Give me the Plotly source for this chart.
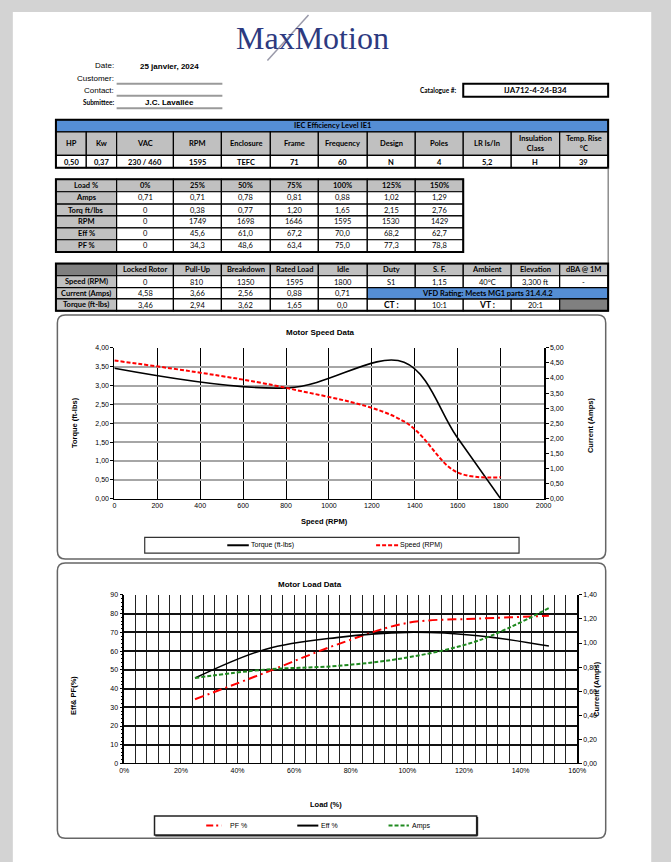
import plotly.graph_objects as go

W, H = 671, 862

# ---------------- data ----------------
date_text = "25 janvier, 2024"
submittee = "J.C. Lavallée"
catalogue = "IJA712-4-24-B34"

iec_title = "IEC Efficiency Level IE1"
spec_headers = ["HP", "Kw", "VAC", "RPM", "Enclosure", "Frame", "Frequency", "Design",
                "Poles", "LR Is/In", "Insulation<br>Class", "Temp. Rise<br>°C"]
spec_values = ["0,50", "0,37", "230 / 460", "1595", "TEFC", "71", "60", "N", "4", "5,2", "H", "39"]

load_pct = [0, 25, 50, 75, 100, 125, 150]
amps = [0.71, 0.71, 0.78, 0.81, 0.88, 1.02, 1.29]
torq = [0, 0.38, 0.77, 1.20, 1.65, 2.15, 2.76]
rpm = [0, 1749, 1698, 1646, 1595, 1530, 1429]
eff = [0, 45.6, 61.0, 67.2, 70.0, 68.2, 62.7]
pf = [0, 34.3, 48.6, 63.4, 75.0, 77.3, 78.8]

perf_headers = ["Locked Rotor", "Pull-Up", "Breakdown", "Rated Load", "Idle"]
perf_speed = [0, 810, 1350, 1595, 1800]
perf_current = [4.58, 3.66, 2.56, 0.88, 0.71]
perf_torque = [3.46, 2.94, 3.62, 1.65, 0.0]
extra_headers = ["Duty", "S. F.", "Ambient", "Elevation", "dBA @ 1M"]
extra_values = ["S1", "1,15", "40°C", "3,300 ft", "-"]
vfd_text = "VFD Rating: Meets MG1 parts 31.4.4.2"
ct_vt = ["CT :", "10:1", "VT :", "20:1"]

# ---------------- helpers ----------------
def X(p):
    return p / W

def Y(p):
    return 1 - p / H

def fmt2(v):
    return f"{v:.2f}".replace(".", ",")

def fmt1(v):
    return f"{v:.1f}".replace(".", ",")

shapes = []
annots = []

TF = "Lato"
AF = "Liberation Sans"

def rect(x0, y0, x1, y1, fill=None, lc="black", lw=1, layer="above"):
    shapes.append(dict(type="rect", xref="paper", yref="paper", x0=X(x0), x1=X(x1),
                       y0=Y(y1), y1=Y(y0), fillcolor=fill if fill else "rgba(0,0,0,0)",
                       line=dict(color=lc, width=lw), layer=layer))

def hline(x0, x1, y, lc="black", lw=1):
    shapes.append(dict(type="line", xref="paper", yref="paper", x0=X(x0), x1=X(x1),
                       y0=Y(y), y1=Y(y), line=dict(color=lc, width=lw)))

def seg(x0, y0, x1, y1, lc="black", lw=1, dash="solid"):
    shapes.append(dict(type="line", xref="paper", yref="paper", x0=X(x0), x1=X(x1),
                       y0=Y(y0), y1=Y(y1), line=dict(color=lc, width=lw, dash=dash)))

def text(x, y, s, size=7.5, bold=False, color="black", family=TF, xanchor="center", angle=0):
    annots.append(dict(xref="paper", yref="paper", x=X(x), y=Y(y),
                       text=f"<b>{s}</b>" if bold else s, showarrow=False,
                       font=dict(size=size, color=color, family=family),
                       xanchor=xanchor, yanchor="middle", textangle=angle, borderpad=0))

def rounded(x0, y0, x1, y1, r=8, lc="#666666", lw=1.5):
    p = (f"M {X(x0+r)},{Y(y0)} L {X(x1-r)},{Y(y0)} Q {X(x1)},{Y(y0)} {X(x1)},{Y(y0+r)} "
         f"L {X(x1)},{Y(y1-r)} Q {X(x1)},{Y(y1)} {X(x1-r)},{Y(y1)} "
         f"L {X(x0+r)},{Y(y1)} Q {X(x0)},{Y(y1)} {X(x0)},{Y(y1-r)} "
         f"L {X(x0)},{Y(y0+r)} Q {X(x0)},{Y(y0)} {X(x0+r)},{Y(y0)} Z")
    shapes.append(dict(type="path", xref="paper", yref="paper", path=p,
                       line=dict(color=lc, width=lw), fillcolor="rgba(0,0,0,0)"))

GRAY = "#c0c0c0"
BLUE = "#558ed5"
DARK = "#808080"

# ---------------- page ----------------
rect(8, 8, 660, 870, fill="white", lc="white", lw=0, layer="below")

# logo
text(314, 34, "MaxMotion", size=32, color="#2d3a80", family="Liberation Serif")
seg(268, 57, 310, 11, lc="#9a9aaa", lw=1.5)

# header fields
text(112, 62, "Date:", size=8, family=AF, xanchor="right")
text(168, 63, date_text, size=8, bold=True, family=AF)
text(112, 75, "Customer:", size=8, family=AF, xanchor="right")
text(112, 87, "Contact:", size=8, family=AF, xanchor="right")
text(112, 99, "Submittee:", size=6.5, bold=True, family=TF, xanchor="right")
text(168, 99, submittee, size=8, bold=True, family=AF)
for yy in (80.5, 92.5, 105):
    hline(114, 222, yy, lc="#9a9a9a", lw=2)
text(463, 87, "Catalogue #:", size=6.5, bold=True, xanchor="right")
rect(468, 80.5, 616, 93.5, lc="black", lw=2)
text(542, 87, catalogue, size=8, bold=True)

# ---------------- table 1 ----------------
cols = [52, 83, 114, 172, 221, 271, 320, 370, 419, 468, 517, 566.5, 616]
r1 = [116.7, 129, 152.7, 165]
rect(cols[0], r1[0], cols[-1], r1[1], fill=BLUE, lw=1)
text((cols[0] + cols[-1]) / 2, (r1[0] + r1[1]) / 2, iec_title, size=7.5, bold=True)
for i, (hd, v) in enumerate(zip(spec_headers, spec_values)):
    rect(cols[i], r1[1], cols[i + 1], r1[2], fill=GRAY, lw=1.2)
    text((cols[i] + cols[i + 1]) / 2, (r1[1] + r1[2]) / 2, hd, size=7.5, bold=True)
    rect(cols[i], r1[2], cols[i + 1], r1[3], fill="white", lw=1.2)
    text((cols[i] + cols[i + 1]) / 2, (r1[2] + r1[3]) / 2 + 0.5, v, size=7.5, bold=True)
rect(cols[0], r1[0], cols[-1], r1[3], lw=2)

# right frame line
seg(616, 165, 616, 261.7, lc="#555555", lw=1)

# ---------------- table 2 ----------------
c2 = [52, 114, 172, 221, 271, 320, 370, 419, 468]
r2 = [176.7, 189.3, 201.7, 213.7, 225.7, 237.7, 250]
hdr2 = ["Load %"] + [f"{p}%" for p in load_pct]
rows2 = [
    ("Amps", [fmt2(v) for v in amps]),
    ("Torq ft/lbs", ["0" if v == 0 else fmt2(v) for v in torq]),
    ("RPM", [str(v) for v in rpm]),
    ("Eff %", ["0" if v == 0 else fmt1(v) for v in eff]),
    ("PF %", ["0" if v == 0 else fmt1(v) for v in pf]),
]
for i, hd in enumerate(hdr2):
    rect(c2[i], r2[0], c2[i + 1], r2[1], fill=GRAY, lw=1.2)
    text((c2[i] + c2[i + 1]) / 2, (r2[0] + r2[1]) / 2, hd, size=7.5, bold=True)
for j, (lab, vals) in enumerate(rows2):
    y0, y1 = r2[j + 1], r2[j + 2]
    rect(c2[0], y0, c2[1], y1, fill=GRAY, lw=1.2)
    text((c2[0] + c2[1]) / 2, (y0 + y1) / 2, lab, size=7.5, bold=True)
    for i, v in enumerate(vals):
        rect(c2[i + 1], y0, c2[i + 2], y1, fill="white", lw=1.2)
        text((c2[i + 1] + c2[i + 2]) / 2, (y0 + y1) / 2, v, size=7.5)
rect(c2[0], r2[0], c2[-1], r2[-1], lw=2)

# ---------------- table 3 ----------------
c3 = [52, 114, 172, 221, 271, 320, 370, 419, 468, 517, 566.5, 616]
r3 = [261.7, 274, 286, 297.3, 309.3]
rect(c3[0], r3[0], c3[1], r3[1], fill=DARK, lw=1.2)
for i, hd in enumerate(perf_headers + extra_headers):
    rect(c3[i + 1], r3[0], c3[i + 2], r3[1], fill=GRAY, lw=1.2)
    text((c3[i + 1] + c3[i + 2]) / 2, (r3[0] + r3[1]) / 2, hd, size=7.5, bold=True)
row_labels3 = ["Speed (RPM)", "Current (Amps)", "Torque (ft-lbs)"]
row_vals3 = [
    [str(v) for v in perf_speed] + extra_values,
    [fmt2(v) for v in perf_current],
    [fmt2(v) if v else "0,0" for v in perf_torque] + ct_vt,
]
for j, lab in enumerate(row_labels3):
    y0, y1 = r3[j + 1], r3[j + 2]
    rect(c3[0], y0, c3[1], y1, fill=GRAY, lw=1.2)
    text((c3[0] + c3[1]) / 2, (y0 + y1) / 2, lab, size=7.5, bold=True)
    for i, v in enumerate(row_vals3[j]):
        rect(c3[i + 1], y0, c3[i + 2], y1, fill="white", lw=1.2)
        big = v in ("CT :", "VT :")
        text((c3[i + 1] + c3[i + 2]) / 2, (y0 + y1) / 2 + 0.5, v, size=8.5 if big else 7.5, bold=big)
# merged VFD cell
rect(c3[6], r3[2], c3[-1], r3[3], fill=BLUE, lw=1.2)
text((c3[6] + c3[-1]) / 2, (r3[2] + r3[3]) / 2, vfd_text, size=7.5, bold=True)
rect(c3[-2], r3[3], c3[-1], r3[4], fill=DARK, lw=1.2)
rect(c3[0], r3[0], c3[-1], r3[-1], lw=2)

# ---------------- chart boxes ----------------
rounded(53.5, 313.5, 613.5, 559.5)
rounded(53.5, 563.5, 613.5, 841)

# chart 1 texts
text(322, 331, "Motor Speed Data", size=8, bold=True, family=AF)
text(326, 522, "Speed (RPM)", size=7.5, bold=True, family=AF)
text(71, 422, "Torque (ft-lbs)", size=7.5, bold=True, family=AF, angle=-90)
text(598, 425, "Current (Amps)", size=7.5, bold=True, family=AF, angle=-90)
# chart 1 legend
rect(142.7, 537.7, 525, 553.7, lc="#333333", lw=1.2)
seg(227, 545.7, 249, 545.7, lc="black", lw=2)
text(250.5, 545.7, "Torque (ft-lbs)", size=7, family=AF, xanchor="left")
seg(379, 545.7, 401.5, 545.7, lc="#ff0000", lw=2, dash="4px,2px")
text(402.5, 545.7, "Speed (RPM)", size=7, family=AF, xanchor="left")

# chart 2 texts
text(312, 585, "Motor Load Data", size=8, bold=True, family=AF)
text(328, 807.5, "Load (%)", size=7.5, bold=True, family=AF)
text(70, 697, "Eff& PF(%)", size=7.5, bold=True, family=AF, angle=-90)
text(604, 690, "Current (Amps)", size=7.5, bold=True, family=AF, angle=-90)
# chart 2 legend
rect(152.7, 818.7, 481.7, 837.7, lc="#222222", lw=1.5)
seg(153.5, 838.5, 482.5, 838.5, lc="#222222", lw=1.5)
seg(482.5, 819.5, 482.5, 838.5, lc="#222222", lw=1.5)
seg(205.5, 828.3, 221, 828.3, lc="#ff0000", lw=2, dash="7px,3px,2px,3px")
text(229, 828.3, "PF %", size=7, family=AF, xanchor="left")
seg(298.5, 828.3, 320, 828.3, lc="black", lw=2)
text(321.5, 828.3, "Eff %", size=7, family=AF, xanchor="left")
seg(391.7, 828.3, 412.5, 828.3, lc="#1f8a1f", lw=2, dash="4px,2px")
text(414.3, 828.3, "Amps", size=7, family=AF, xanchor="left")

# ---------------- traces ----------------
fig = go.Figure()
fig.add_trace(go.Scatter(x=perf_speed, y=perf_torque, mode="lines", name="Torque (ft-lbs)",
                         line=dict(color="black", width=1.6, shape="spline", smoothing=1),
                         xaxis="x", yaxis="y", showlegend=False, hoverinfo="skip"))
fig.add_trace(go.Scatter(x=perf_speed, y=perf_current, mode="lines", name="Speed (RPM)",
                         line=dict(color="#ff0000", width=2, dash="4px,2px", shape="spline", smoothing=1),
                         xaxis="x", yaxis="y2", showlegend=False, hoverinfo="skip"))

load_frac = [p / 100 for p in load_pct[1:]]
fig.add_trace(go.Scatter(x=load_frac, y=pf[1:], mode="lines", name="PF %",
                         line=dict(color="#ff0000", width=2, dash="9px,4px,2px,4px", shape="spline", smoothing=1),
                         xaxis="x2", yaxis="y3", showlegend=False, hoverinfo="skip"))
fig.add_trace(go.Scatter(x=load_frac, y=eff[1:], mode="lines", name="Eff %",
                         line=dict(color="black", width=1.6, shape="spline", smoothing=1),
                         xaxis="x2", yaxis="y3", showlegend=False, hoverinfo="skip"))
fig.add_trace(go.Scatter(x=load_frac, y=amps[1:], mode="lines", name="Amps",
                         line=dict(color="#1f8a1f", width=2, dash="4px,2px", shape="spline", smoothing=1),
                         xaxis="x2", yaxis="y4", showlegend=False, hoverinfo="skip"))

tickfont = dict(size=7, family=AF, color="black")

fig.update_layout(
    width=W, height=H,
    margin=dict(l=0, r=0, t=0, b=0),
    paper_bgcolor="#d3d3d3",
    plot_bgcolor="rgba(0,0,0,0)",
    separators=", ",
    showlegend=False,
    shapes=shapes,
    annotations=annots,
    xaxis=dict(domain=[X(111.7), X(550)], anchor="y", range=[0, 2000], dtick=200,
               showgrid=True, gridcolor="black", gridwidth=1, zeroline=False,
               showline=True, linecolor="black", linewidth=1, ticks="", tickfont=tickfont,
               fixedrange=True),
    yaxis=dict(domain=[Y(498.7), Y(346.7)], anchor="x", range=[0, 4], dtick=0.5, tickformat=".2f",
               showgrid=True, gridcolor="#a6a6a6", gridwidth=2, zeroline=False,
               showline=True, linecolor="black", linewidth=1, ticks="outside", ticklen=3,
               tickcolor="black", tickfont=tickfont, fixedrange=True),
    yaxis2=dict(overlaying="y", side="right", anchor="x", range=[0, 5], dtick=0.5, tickformat=".2f",
                showgrid=False, zeroline=False, showline=True, linecolor="black", linewidth=2,
                ticks="outside", ticklen=3, tickcolor="black", tickfont=tickfont, fixedrange=True),
    xaxis2=dict(domain=[X(121.8), X(584.4)], anchor="y3", range=[0, 1.6], dtick=0.2, tickformat=".0%",
                showgrid=True, gridcolor="#222222", gridwidth=1.3, zeroline=False,
                showline=True, linecolor="black", linewidth=1, ticks="", tickfont=tickfont,
                minor=dict(dtick=0.04, showgrid=True, gridcolor="#222222", gridwidth=1.2),
                fixedrange=True),
    yaxis3=dict(domain=[Y(765.7), Y(595.7)], anchor="x2", range=[0, 90], dtick=10,
                showgrid=True, gridcolor="#111111", gridwidth=2, zeroline=False,
                showline=True, linecolor="black", linewidth=1.5, ticks="outside", ticklen=3,
                tickcolor="black", tickfont=tickfont,
                minor=dict(dtick=2, ticks="outside", ticklen=2, tickcolor="black", showgrid=False),
                fixedrange=True),
    yaxis4=dict(overlaying="y3", side="right", anchor="x2", range=[0, 1.4], dtick=0.2, tickformat=".2f",
                showgrid=False, zeroline=False, showline=True, linecolor="black", linewidth=1.5,
                ticks="outside", ticklen=3, tickcolor="black", tickfont=tickfont, fixedrange=True),
)

fig.write_html("out.html")
